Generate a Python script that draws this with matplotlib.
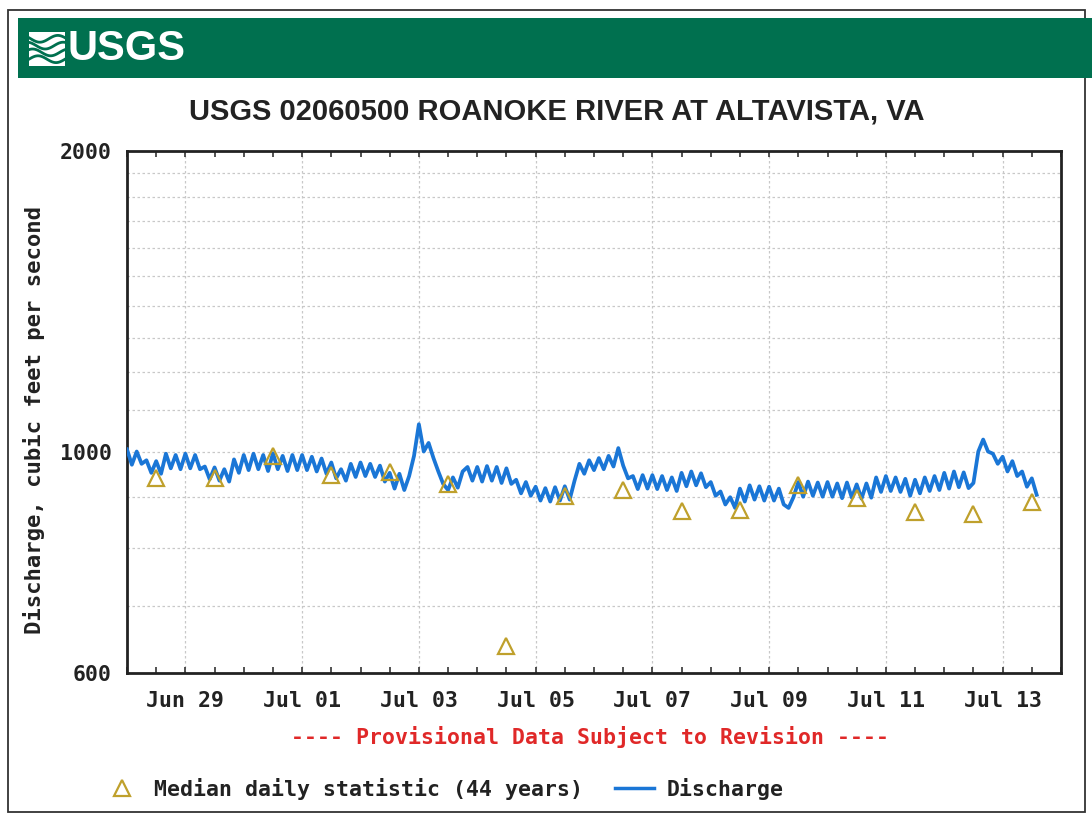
import numpy as np
import pandas as pd
import matplotlib
matplotlib.use("Agg")
import matplotlib.pyplot as plt
import matplotlib.dates as mdates
from matplotlib.ticker import FixedLocator, NullFormatter
from matplotlib.lines import Line2D
from matplotlib.patches import Rectangle

# discharge, cfs, every 2 hours from Jun 28 00:00 (one row per day)
discharge = [
    1005, 970, 1000, 972, 980, 952, 978, 950, 995, 962, 992, 960,   # Jun 28
    995, 962, 992, 960, 966, 938, 964, 935, 960, 933, 982, 952,     # Jun 29
    992, 958, 995, 960, 992, 956, 996, 960, 990, 956, 992, 958,     # Jun 30
    992, 958, 988, 955, 984, 950, 975, 940, 960, 935, 972, 943,     # Jul 01
    975, 945, 972, 943, 968, 933, 952, 918, 950, 915, 945, 990,     # Jul 02
    1065, 1000, 1020, 985, 955, 928, 915, 942, 920, 955, 965, 935,  # Jul 03
    965, 933, 967, 935, 965, 930, 962, 928, 937, 908, 932, 903,     # Jul 04
    922, 893, 919, 891, 921, 893, 923, 895, 935, 972, 950, 980,     # Jul 05
    958, 985, 960, 990, 966, 1008, 968, 940, 945, 917, 947, 918,    # Jul 06
    947, 917, 945, 915, 942, 913, 952, 923, 955, 925, 951, 921,     # Jul 07
    932, 903, 912, 885, 900, 878, 918, 891, 925, 895, 923, 893,     # Jul 08
    922, 893, 918, 885, 878, 900, 932, 901, 933, 903, 931, 901,     # Jul 09
    932, 901, 929, 898, 931, 899, 927, 897, 929, 899, 942, 911,     # Jul 10
    945, 913, 942, 911, 939, 903, 937, 908, 942, 913, 945, 915,     # Jul 11
    952, 918, 955, 921, 953, 919, 930, 1000, 1028, 1000, 995, 972,  # Jul 12
    988, 955, 978, 945, 955, 922, 940, 905,                         # Jul 13
]
q_times = pd.date_range("2013-06-28 00:00", periods=len(discharge), freq="2h")

# median daily statistic (44 years), plotted at noon
median_days = pd.date_range("2013-06-28 12:00", periods=16, freq="D")
median_vals = [941, 940, 990, 947, 954, 928, 639, 903,
               915, 872, 873, 926, 899, 870, 866, 890]

tick_days = pd.date_range("2013-06-29", periods=8, freq="2D")
tick_labels = [d.strftime("%b %d") for d in tick_days]

W, H = 1092, 817
fig = plt.figure(figsize=(W / 100, H / 100), dpi=100)
mono = ["DejaVu Sans Mono"]
sans = ["Liberation Sans", "DejaVu Sans"]
green = "#00704f"

# page frame and banner
fig.patches.append(Rectangle((8 / W, 1 - 812 / H), 1077 / W, 802 / H, transform=fig.transFigure,
                             fill=False, edgecolor="#333333", lw=1.3, zorder=0))
fig.patches.append(Rectangle((18 / W, 1 - 78 / H), 1 - 18 / W, 60 / H, transform=fig.transFigure,
                             facecolor=green, edgecolor="none", zorder=0))

# logo mark
lax = fig.add_axes([29 / W, 1 - 66 / H, 36 / W, 34 / H])
lax.set_zorder(3)
lax.set_xlim(0, 1)
lax.set_ylim(0, 1)
lax.axis("off")
lax.add_patch(Rectangle((0, 0), 1, 1, facecolor="white", edgecolor="none"))
xs = np.linspace(0, 1, 50)
for k in range(4):
    lax.plot(xs, 0.2 + 0.2 * k + 0.1 * np.sin(2 * np.pi * (xs + 0.15 * k)), color=green, lw=2.0)
fig.text(68 / W, 1 - 49 / H, "USGS", color="white", fontsize=30, fontweight="bold",
         family=sans, va="center", ha="left", zorder=3)

fig.text(557 / W, 1 - 111 / H, "USGS 02060500 ROANOKE RIVER AT ALTAVISTA, VA",
         fontsize=21, fontweight="bold", family=sans, color="#222222", ha="center", va="center")

ax = fig.add_axes([127 / W, 1 - 673 / H, 934 / W, 522 / H])
ax.plot(q_times, discharge, color="#1a76d6", lw=2.7, label="Discharge", zorder=3)
ax.plot(median_days, median_vals, linestyle="none", marker="^", ms=12, mfc="none",
        mec="#bfa02c", mew=1.6, label="Median daily statistic (44 years)", zorder=4)

ax.set_yscale("log")
ax.set_ylim(600, 2000)
ax.yaxis.set_major_locator(FixedLocator([600, 1000, 2000]))
ax.yaxis.set_minor_locator(FixedLocator(list(range(700, 2000, 100))))
ax.yaxis.set_minor_formatter(NullFormatter())
ax.set_yticklabels(["600", "1000", "2000"])

ax.set_xlim(pd.Timestamp("2013-06-28"), pd.Timestamp("2013-07-14"))
ax.xaxis.set_major_locator(FixedLocator(mdates.date2num(tick_days)))
ax.set_xticklabels(tick_labels)
ax.xaxis.set_minor_locator(mdates.HourLocator(byhour=[0, 12]))

ax.grid(True, which="major", axis="x", color="#c8c8c8", lw=0.9, ls=(0, (2, 2)))
ax.grid(True, which="both", axis="y", color="#c8c8c8", lw=0.9, ls=(0, (2, 2)))
ax.tick_params(axis="x", which="both", direction="in", top=True, length=4, width=1.2, color="#333333")
ax.tick_params(axis="x", which="major", pad=13)
ax.tick_params(axis="y", which="both", length=0, pad=11)
for lab in ax.get_xticklabels() + ax.get_yticklabels():
    lab.set_family(mono)
    lab.set_fontweight("bold")
    lab.set_fontsize(15.5)
    lab.set_color("#222222")
for sp in ax.spines.values():
    sp.set_linewidth(2)
    sp.set_color("#222222")

ax.set_ylabel("Discharge, cubic feet per second", family=mono, fontweight="bold",
              fontsize=16, color="#222222")
ax.yaxis.set_label_coords(-0.088, 0.485)

fig.text(590 / W, 1 - 737 / H, "---- Provisional Data Subject to Revision ----",
         family=mono, fontweight="bold", fontsize=15.5, color="#e02828", ha="center", va="center")

handles = [Line2D([], [], linestyle="none", marker="^", ms=12, mfc="none", mec="#bfa02c", mew=1.6),
           Line2D([], [], color="#1a76d6", lw=2.5)]
leg = fig.legend(handles, ["Median daily statistic (44 years)", "Discharge"],
                 loc="center left", bbox_to_anchor=(83 / W, 1 - 789 / H), ncol=2, frameon=False,
                 handlelength=1.8, handletextpad=0.6, columnspacing=1.5,
                 prop={"family": mono, "weight": "bold", "size": 15.5})
for t in leg.get_texts():
    t.set_color("#222222")

fig.savefig("out.png", dpi=100)
